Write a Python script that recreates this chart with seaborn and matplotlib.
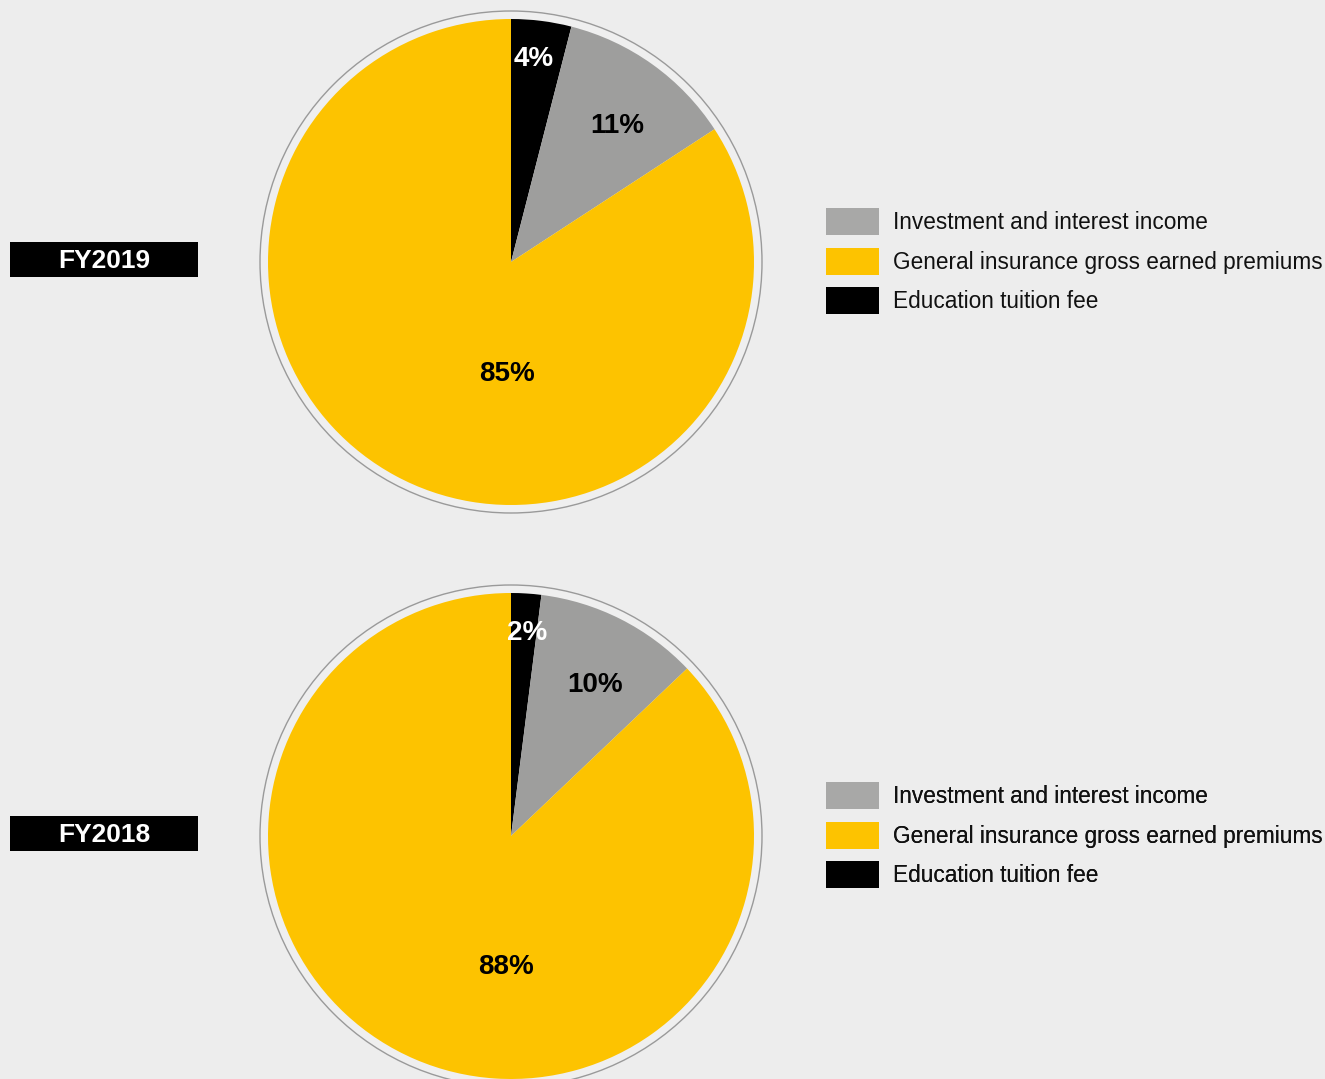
import math
import matplotlib
matplotlib.use("Agg")
import matplotlib.pyplot as plt
from matplotlib.patches import Patch, Circle, Rectangle
import seaborn as sns

# ---- data ----
years = ["FY2019", "FY2018"]
categories = ["Education tuition fee", "Investment and interest income",
              "General insurance gross earned premiums"]
legend_order = ["Investment and interest income",
                "General insurance gross earned premiums",
                "Education tuition fee"]
values_2019 = [4.0, 11.8, 84.2]
values_2018 = [2.0, 10.9, 87.1]
labels_2019 = ["4%", "11%", "85%"]
labels_2018 = ["2%", "10%", "88%"]

# ---- style ----
sns.set_theme(style="white")
plt.rcParams["font.family"] = ["Liberation Sans", "DejaVu Sans"]
BG = "#EDEDED"
pal = {"Education tuition fee": "#000000",
       "Investment and interest income": "#9E9E9D",
       "General insurance gross earned premiums": "#FDC300"}
legend_pal = {"Education tuition fee": "#000000",
              "Investment and interest income": "#A8A8A7",
              "General insurance gross earned premiums": "#FDC300"}
label_colors = ["white", "black", "black"]

W, H = 1325, 1079
fig = plt.figure(figsize=(W / 100, H / 100), dpi=100, facecolor=BG)
ax = fig.add_axes([0, 0, 1, 1])
ax.set_facecolor(BG)

def Y(y):  # top-based pixel -> data y
    return H - y

panels = [
    (values_2019, labels_2019, 262, [(0.84, 6.5), (0.71, 38), (0.46, 182)]),
    (values_2018, labels_2018, 836, [(0.84, 4.5), (0.71, 29), (0.54, 182)]),
]
R = 243
cx = 511
for (vals, labs, cy, lpos), year in zip(panels, years):
    ax.add_patch(Circle((cx, Y(cy)), 251, facecolor="#EFEFEF",
                        edgecolor="#9A9A9A", linewidth=1.0, zorder=0))
    ax.pie(vals, colors=[pal[c] for c in categories], startangle=90,
           counterclock=False, center=(cx, Y(cy)), radius=R,
           wedgeprops=dict(linewidth=0))
    for lab, col, (rf, ang) in zip(labs, label_colors, lpos):
        a = math.radians(ang)
        x = cx + rf * R * math.sin(a)
        y = Y(cy) + rf * R * math.cos(a)
        ax.text(x, y, lab, ha="center", va="center", fontsize=20,
                fontweight="bold", color=col, zorder=5)
    # year tag
    ax.add_patch(Rectangle((10, Y(cy + 15)), 188, 35, facecolor="black",
                           edgecolor="none", zorder=3))
    ax.text(104, Y(cy - 0.5), year, ha="center", va="center", fontsize=19,
            fontweight="bold", color="white", zorder=4)
    handles = [Patch(facecolor=legend_pal[c], edgecolor="none", label=c)
               for c in legend_order]
    leg = ax.legend(handles=handles, loc="upper left",
                    bbox_to_anchor=(826 / W, 1 - (cy - 54) / H),
                    frameon=False, fontsize=16.3, handlelength=2.35,
                    handleheight=1.46, handletextpad=0.62, labelspacing=0.56,
                    borderpad=0, borderaxespad=0)
    for t in leg.get_texts():
        t.set_color("#111111")
    ax.add_artist(leg)

ax.set_xlim(0, W)
ax.set_ylim(0, H)
ax.set_aspect("equal")
ax.axis("off")
fig.savefig("out.png", dpi=100, facecolor=BG)
